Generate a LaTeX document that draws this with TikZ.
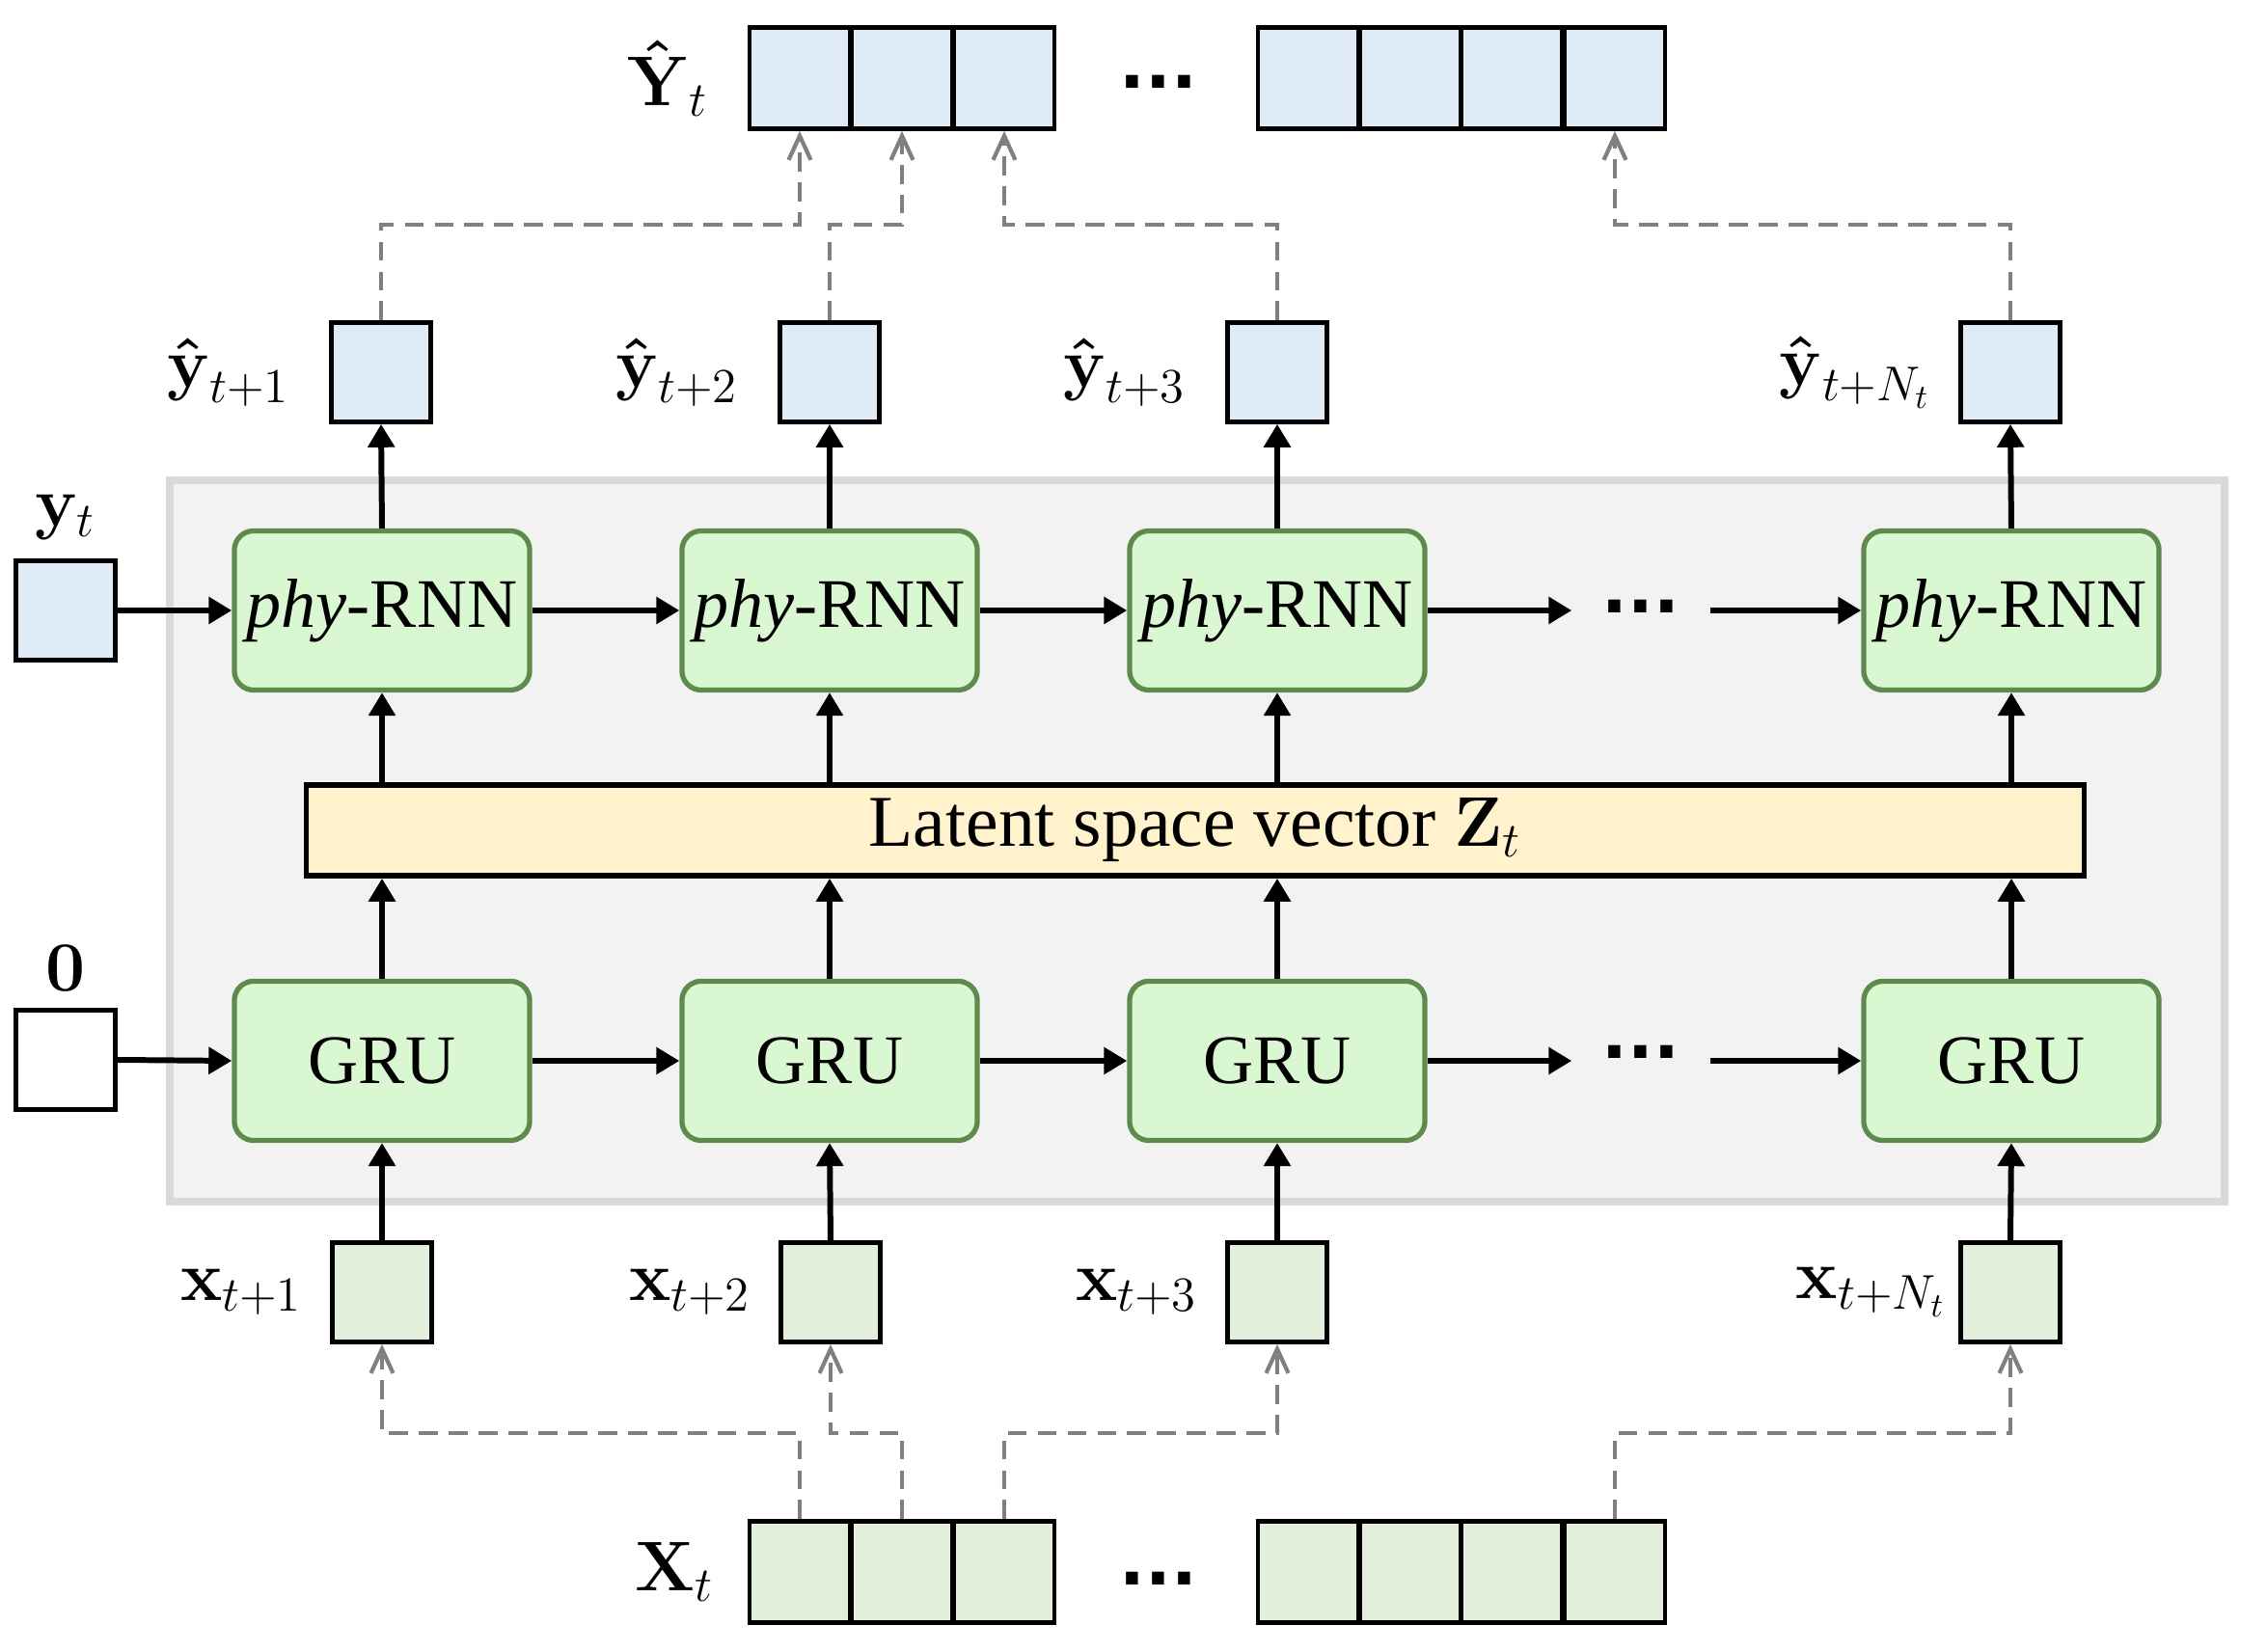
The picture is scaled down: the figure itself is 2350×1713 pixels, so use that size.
\documentclass[tikz,border=0pt]{standalone}
\usepackage{amsmath}
\usepackage[no-math]{fontspec}
\setmainfont{Liberation Serif}
\newfontfamily\dotfont{DejaVu Sans}
\usetikzlibrary{arrows.meta}

\definecolor{cellblue}{HTML}{DEEBF7}
\definecolor{cellgreen}{HTML}{E2EFDA}
\definecolor{unitfill}{HTML}{D9F7D0}
\definecolor{unitedge}{HTML}{5E8A4E}
\definecolor{latentfill}{HTML}{FFF2CC}
\definecolor{panelfill}{HTML}{F2F2F2}
\definecolor{paneledge}{HTML}{D9D9D9}
\definecolor{linkgray}{HTML}{808080}

% bold vector with a bold hat
\newcommand{\hvec}[1]{\boldsymbol{\hat{\mathbf{#1}}}}

\begin{document}
\begin{tikzpicture}[x=0.01cm, y=-0.01cm,
  every node/.style={font=\fontsize{20.5}{24}\selectfont},
  sq/.style={draw=black, line width=1.3pt, minimum width=1.03cm, minimum height=1.03cm, inner sep=0pt},
  cell/.style={draw=black, line width=1.3pt, minimum width=1.04cm, minimum height=1.05cm, inner sep=0pt},
  unit/.style={draw=unitedge, fill=unitfill, line width=1.5pt, rounded corners=0.2cm,
    minimum width=3.06cm, minimum height=1.65cm, inner sep=0pt},
  lab/.style={inner sep=0pt, font=\fontsize{20}{24}\selectfont},
  dots/.style={inner sep=0pt, font=\dotfont\bfseries\fontsize{20}{24}\selectfont},
  arr/.style={line width=1.7pt, -{Triangle[length=0.24cm, width=0.27cm]}},
  dashlink/.style={draw=linkgray, line width=1.2pt, dash pattern=on 5.6pt off 3.2pt,
    -{Straight Barb[length=0.25cm, width=0.23cm]}}
]
\useasboundingbox (0,0) rectangle (2350,1713);

% shaded panel holding the recurrent part
\draw[draw=paneledge, fill=panelfill, line width=2.3pt] (176,498) rectangle (2306,1246);

% bus levels of the dashed links
\coordinate (topbus) at (0,233);
\coordinate (botbus) at (0,1486);

% output sequence
\node[cell, fill=cellblue] (Y1) at (829,81) {};
\node[cell, fill=cellblue] (Y2) at (935,81) {};
\node[cell, fill=cellblue] (Y3) at (1041,81) {};
\node[cell, fill=cellblue] (Y4) at (1356,81) {};
\node[cell, fill=cellblue] (Y5) at (1462,81) {};
\node[cell, fill=cellblue] (Y6) at (1567,81) {};
\node[cell, fill=cellblue] (Y7) at (1674,81) {};
\node[lab, anchor=east] (lY) at ([xshift=-0.4cm]Y1.west) {$\hvec{Y}_t$};
\node[dots] (tdots) at (1201,85) {...};

% input sequence
\node[cell, fill=cellgreen] (X1) at (829,1630) {};
\node[cell, fill=cellgreen] (X2) at (935,1630) {};
\node[cell, fill=cellgreen] (X3) at (1041,1630) {};
\node[cell, fill=cellgreen] (X4) at (1356,1630) {};
\node[cell, fill=cellgreen] (X5) at (1462,1630) {};
\node[cell, fill=cellgreen] (X6) at (1567,1630) {};
\node[cell, fill=cellgreen] (X7) at (1674,1630) {};
\node[lab, anchor=east] (lX) at ([xshift=-0.34cm]X1.west) {$\mathbf{X}_t$};
\node[dots] (bdots) at (1201,1637) {...};

% per-step predictions
\node[sq, fill=cellblue] (yh1) at (395,386) {};
\node[sq, fill=cellblue] (yh2) at (860,386) {};
\node[sq, fill=cellblue] (yh3) at (1324,386) {};
\node[sq, fill=cellblue] (yh4) at (2084,386) {};
\node[lab, anchor=east] (lyh1) at ([xshift=-0.4cm]yh1.west) {$\hvec{y}_{t+1}$};
\node[lab, anchor=east] (lyh2) at ([xshift=-0.4cm]yh2.west) {$\hvec{y}_{t+2}$};
\node[lab, anchor=east] (lyh3) at ([xshift=-0.4cm]yh3.west) {$\hvec{y}_{t+3}$};
\node[lab, anchor=east] (lyh4) at ([xshift=-0.28cm]yh4.west) {$\hvec{y}_{t+N_t}$};

% per-step inputs
\node[sq, fill=cellgreen] (xb1) at (396,1340) {};
\node[sq, fill=cellgreen] (xb2) at (861,1340) {};
\node[sq, fill=cellgreen] (xb3) at (1324,1340) {};
\node[sq, fill=cellgreen] (xb4) at (2084,1340) {};
\node[lab, anchor=east] (lxb1) at ([xshift=-0.28cm]xb1.west) {$\mathbf{x}_{t+1}$};
\node[lab, anchor=east] (lxb2) at ([xshift=-0.28cm]xb2.west) {$\mathbf{x}_{t+2}$};
\node[lab, anchor=east] (lxb3) at ([xshift=-0.28cm]xb3.west) {$\mathbf{x}_{t+3}$};
\node[lab, anchor=east] (lxb4) at ([xshift=-0.12cm]xb4.west) {$\mathbf{x}_{t+N_t}$};

% initial states
\node[sq, fill=cellblue] (yt) at (68,633) {};
\node[lab, anchor=south] (lyt) at ([yshift=0.19cm]yt.north) {$\mathbf{y}_t$};
\node[sq, fill=white] (zero) at (68,1099) {};
\node[lab, anchor=south] (lzero) at ([yshift=0.17cm]zero.north) {$\mathbf{0}$};

% decoder cells
\node[unit] (phy1) at (396,633) {\textit{phy}-RNN};
\node[unit] (phy2) at (860,633) {\textit{phy}-RNN};
\node[unit] (phy3) at (1324,633) {\textit{phy}-RNN};
\node[unit] (phy4) at (2085,633) {\textit{phy}-RNN};
\node[dots, minimum width=1.42cm] (pdots) at (1701,629) {...};

% latent vector
\node[draw=black, fill=latentfill, line width=1.6pt, minimum width=18.42cm, minimum height=0.94cm,
  inner sep=0pt, font=\fontsize{21.5}{24}\selectfont]
  (lat) at (1239,861) {Latent space vector $\mathbf{Z}_t$};

% encoder cells
\node[unit] (gru1) at (396,1100) {GRU};
\node[unit] (gru2) at (860,1100) {GRU};
\node[unit] (gru3) at (1324,1100) {GRU};
\node[unit] (gru4) at (2085,1100) {GRU};
\node[dots, minimum width=1.42cm] (gdots) at (1701,1091) {...};

% recurrent links
\draw[arr] (yt.east) -- (phy1.west);
\draw[arr] (phy1.east) -- (phy2.west);
\draw[arr] (phy2.east) -- (phy3.west);
\draw[arr] (phy3.east) -- (phy3.east -| pdots.west);
\draw[arr] (pdots.east |- phy4.west) -- (phy4.west);
\draw[arr] (zero.east) -- (gru1.west);
\draw[arr] (gru1.east) -- (gru2.west);
\draw[arr] (gru2.east) -- (gru3.west);
\draw[arr] (gru3.east) -- (gru3.east -| gdots.west);
\draw[arr] (gdots.east |- gru4.west) -- (gru4.west);

% vertical flow through each step
\foreach \i in {1,2,3,4}{
  \draw[arr] (phy\i.north) -- (yh\i.south);
  \draw[arr] (lat.north -| phy\i) -- (phy\i.south);
  \draw[arr] (gru\i.north) -- (gru\i.north |- lat.south);
  \draw[arr] (xb\i.north) -- (gru\i.south);
}

% predictions gathered into the output sequence
\draw[dashlink] (yh1.north) -- (yh1.north |- topbus) -| (Y1.south);
\draw[dashlink] (yh2.north) -- (yh2.north |- topbus) -| (Y2.south);
\draw[dashlink] (yh3.north) -- (yh3.north |- topbus) -| (Y3.south);
\draw[dashlink] (yh4.north) -- (yh4.north |- topbus) -| (Y7.south);

% input sequence split into steps
\draw[dashlink] (X1.north) -- (X1.north |- botbus) -| (xb1.south);
\draw[dashlink] (X2.north) -- (X2.north |- botbus) -| (xb2.south);
\draw[dashlink] (X3.north) -- (X3.north |- botbus) -| (xb3.south);
\draw[dashlink] (X7.north) -- (X7.north |- botbus) -| (xb4.south);
\end{tikzpicture}
\end{document}
